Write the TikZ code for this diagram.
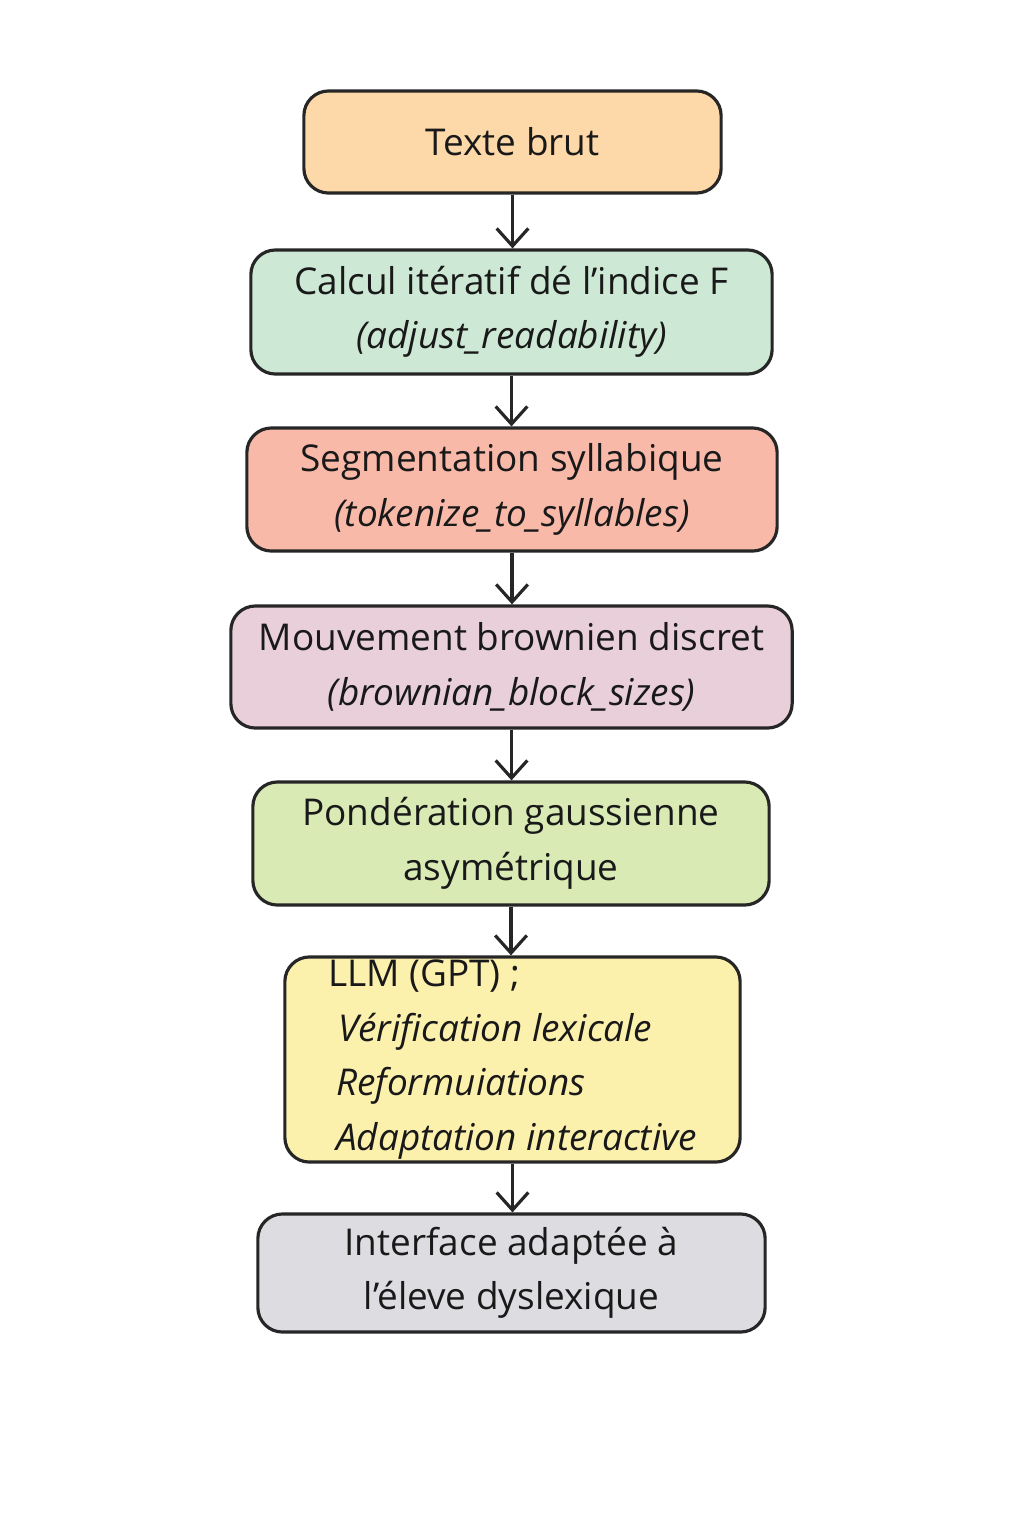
\documentclass[tikz,border=0pt]{standalone}
\usepackage{fontspec}
\setmainfont{Open Sans}
\usepackage{xcolor}
\usetikzlibrary{arrows.meta}
\definecolor{cOrange}{HTML}{FDD8A8}
\definecolor{cMint}{HTML}{CDE8D4}
\definecolor{cSalmon}{HTML}{F8B9A9}
\definecolor{cMauve}{HTML}{E8CFDA}
\definecolor{cLime}{HTML}{D9EAB5}
\definecolor{cYellow}{HTML}{FCF0AD}
\definecolor{cGrey}{HTML}{DDDDE1}
\tikzset{
  stage/.style={draw=black!85,line width=0.9pt,rounded corners=7pt,align=center,
    inner sep=0pt,font=\fontsize{10.5}{15.5}\selectfont,text=black!90},
  flow/.style={-{Straight Barb[length=5pt,width=9pt]},line width=0.9pt,draw=black!85}
}
\begin{document}
\begin{tikzpicture}[x=0.01cm,y=-0.01cm]
\useasboundingbox (0,0) rectangle (1024,1536);

% stages
\node[stage,fill=cOrange,minimum width=4.17cm,minimum height=1.02cm] (S1) at (512.5,142) {Texte brut};
\node[stage,fill=cMint,minimum width=5.21cm,minimum height=1.24cm] (S2) at (511.5,312) {Calcul itératif dé l’indice F\\\textit{(adjust\_readability)}};
\node[stage,fill=cSalmon,minimum width=5.30cm,minimum height=1.23cm] (S3) at (512,489.5) {Segmentation syllabique\\\textit{(tokenize\_to\_syllables)}};
\node[stage,fill=cMauve,minimum width=5.61cm,minimum height=1.22cm] (S4) at (511.5,667) {Mouvement brownien discret\\\textit{(brownian\_block\_sizes)}};
\node[stage,fill=cLime,minimum width=5.16cm,minimum height=1.23cm] (S5) at (511,843.5) {Pondération gaussienne\\asymétrique};
\node[stage,fill=cYellow,minimum width=4.55cm,minimum height=2.05cm,align=left] (S6) at (512.5,1059.5) {LLM (GPT) ;\\\hspace{1mm}\textit{Vérification lexicale}\\\hspace{0.8mm}\textit{Reformuiations}\\\hspace{0.8mm}\textit{Adaptation interactive}};
\node[stage,fill=cGrey,minimum width=5.07cm,minimum height=1.18cm] (S7) at (511.5,1273) {Interface adaptée à\\l’éleve dyslexique};

% connectors
\foreach \a/\b in {S1/S2,S2/S3,S3/S4,S4/S5,S5/S6,S6/S7}
  \draw[flow] (\a.south) -- (\a.south |- \b.north);

\end{tikzpicture}
\end{document}
